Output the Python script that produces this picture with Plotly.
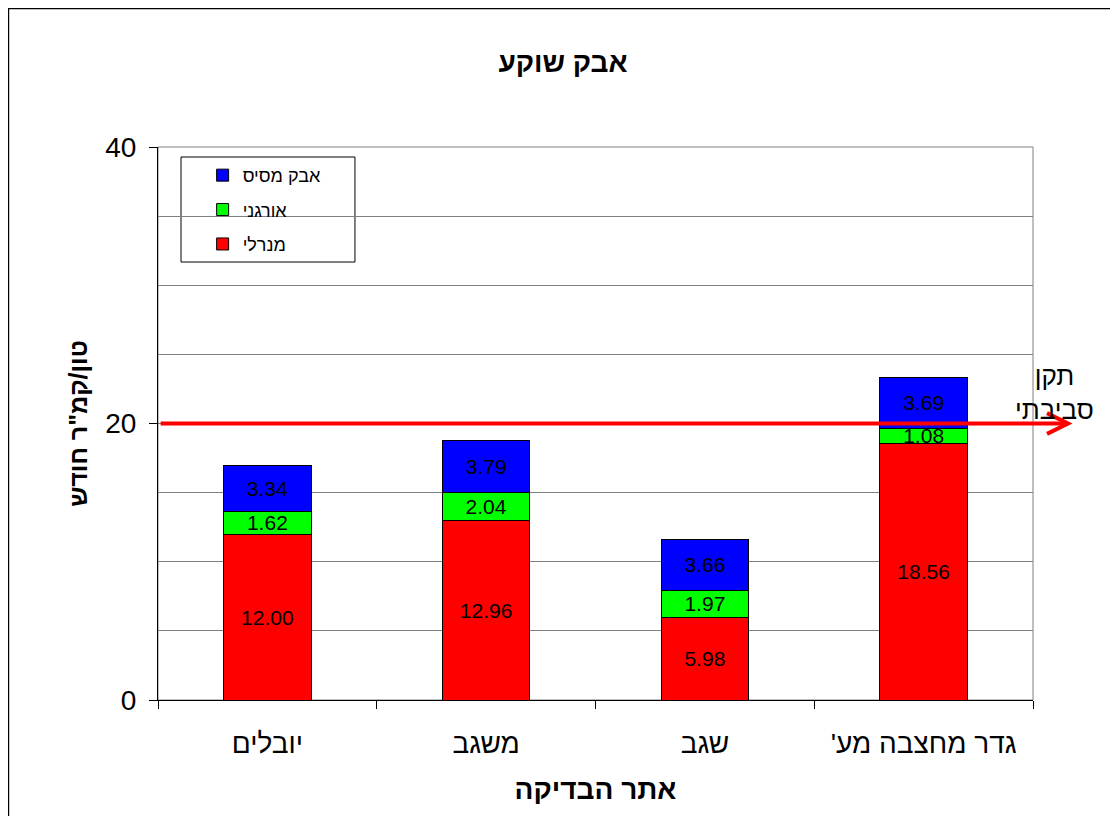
import plotly.graph_objects as go

sites = ["יובלים", "משגב", "שגב", "גדר מחצבה מע'\u200f"]
mineral = [12.00, 12.96, 5.98, 18.56]
organic = [1.62, 2.04, 1.97, 1.08]
soluble = [3.34, 3.79, 3.66, 3.69]
series_names = ["מנרלי", "אורגני", "אבק מסיס"]
series_colors = ["#ff0000", "#00ff00", "#0000ff"]
legend_ranks = [3, 2, 1]
threshold = 20
threshold_label = "תקן<br>סביבתי"
y_ticks = [0, 20, 40]

FONT = "Liberation Sans, Arial, DejaVu Sans, sans-serif"

fig = go.Figure()
for name, vals, col, rank in zip(series_names, [mineral, organic, soluble], series_colors, legend_ranks):
    fig.add_trace(go.Bar(
        x=sites, y=vals, name=name, legendgroup=name, legendrank=rank,
        marker=dict(color=col, line=dict(color="black", width=1)),
        text=[f"{v:.2f}" for v in vals],
        textposition="inside", insidetextanchor="middle", textangle=0,
        constraintext="none",
        textfont=dict(size=21, color="black", family=FONT),
        hoverinfo="skip",
    ))

# threshold arrow
fig.add_shape(type="line", xref="x domain", yref="y", x0=0.003, x1=1.04,
              y0=threshold, y1=threshold, line=dict(color="#ff0000", width=4), layer="above")
fig.add_shape(type="path", xref="x domain", yref="y",
              path=f"M 1.016 {threshold + 0.75} L 1.04 {threshold} L 1.016 {threshold - 0.75}",
              line=dict(color="#ff0000", width=4), layer="above")
fig.add_annotation(xref="x domain", yref="y", x=1.025, y=threshold + 2.2,
                   xanchor="center", yanchor="middle",
                   text=threshold_label, showarrow=False,
                   font=dict(size=26, color="black", family=FONT), align="center")

# plot area border (grey)
fig.add_shape(type="rect", xref="x domain", yref="y domain", x0=0, x1=1, y0=0, y1=1,
              line=dict(color="#808080", width=1), layer="below")
# legend box
fig.add_shape(type="rect", xref="x domain", yref="y domain", x0=0.0263, x1=0.2251, y0=0.792, y1=0.9819,
              line=dict(color="black", width=1), fillcolor="white", layer="below")
# outer frame
fig.add_shape(type="rect", xref="paper", yref="paper", x0=-0.1709, x1=1.2, y0=-0.3, y1=1.2505,
              line=dict(color="black", width=1.5), layer="below")

fig.update_layout(
    width=1110, height=808,
    margin=dict(l=150, r=85, t=139, b=116),
    paper_bgcolor="white", plot_bgcolor="white",
    barmode="stack", bargap=0.6,
    font=dict(family=FONT, color="black"),
    title=dict(text="<b>אבק שוקע</b>", x=0.5, xanchor="center", y=0.933, yanchor="middle",
               font=dict(size=28, family=FONT, color="black")),
    showlegend=True,
    legend=dict(x=0.051, y=0.982, xanchor="left", yanchor="top",
                borderwidth=0, bgcolor="rgba(0,0,0,0)",
                traceorder="grouped", font=dict(size=18, family=FONT),
                tracegroupgap=8, itemwidth=30),
    xaxis=dict(showline=True, linecolor="black", linewidth=1,
               ticks="outside", ticklen=8, tickcolor="black", tickson="boundaries",
               tickfont=dict(size=28, family=FONT), ticklabelstandoff=18,
               title=dict(text="<b>אתר הבדיקה</b>", font=dict(size=28, family=FONT), standoff=21),
               showgrid=False),
    yaxis=dict(range=[0, 40], tickvals=y_ticks, showline=True, linecolor="black", linewidth=1,
               ticks="outside", ticklen=8, tickcolor="black",
               tickfont=dict(size=28, family=FONT), ticklabelstandoff=7,
               showgrid=True, gridcolor="#808080", gridwidth=1,
               minor=dict(dtick=5, showgrid=True, gridcolor="#808080", gridwidth=1),
               title=dict(text="<b>טון/קמ\"ר חודש</b>", font=dict(size=25, family=FONT), standoff=10),
               zeroline=False),
)

fig.write_html("out.html")
